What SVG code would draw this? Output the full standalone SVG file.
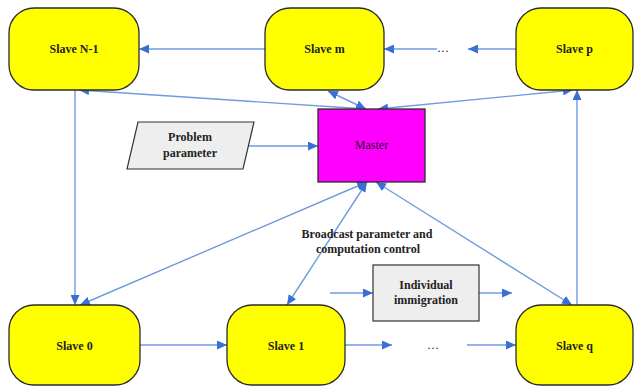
<svg xmlns="http://www.w3.org/2000/svg" width="634" height="386" viewBox="0 0 634 386">
<defs>
<marker id="ah" markerUnits="userSpaceOnUse" markerWidth="10" markerHeight="9" refX="10" refY="4.5" orient="auto-start-reverse">
<path d="M0,0 L10,4.5 L0,9 z" fill="#3a6fd6"/>
</marker>
<style>
.slave rect{fill:#ffff00;stroke:#2b2b2b;stroke-width:1.3}
.gray{fill:#eeeeee;stroke:#333;stroke-width:1.2}
.t{font-family:"Liberation Serif","Times New Roman",serif;font-size:12px;font-weight:bold;fill:#222;text-anchor:middle}
.n{font-family:"Liberation Serif","Times New Roman",serif;font-size:12px;fill:#222;text-anchor:middle}
.c line{stroke:#6f9be0;stroke-width:1.4;fill:none}
.e{marker-end:url(#ah)}
.b{marker-start:url(#ah);marker-end:url(#ah)}
</style>
</defs>
<rect width="634" height="386" fill="#ffffff"/>
<g class="c" id="connectors">
<line class="e" x1="265" y1="49" x2="139" y2="49"/>
<line class="e" x1="516" y1="49" x2="468" y2="49"/>
<line class="e" x1="437" y1="49" x2="384" y2="49"/>
<line class="b" x1="366" y1="109" x2="79" y2="90"/>
<line class="b" x1="366" y1="109" x2="328" y2="91"/>
<line class="b" x1="378" y1="109" x2="573" y2="90"/>
<line class="e" x1="248" y1="146" x2="318" y2="146"/>
<line class="e" x1="75" y1="90" x2="75" y2="305"/>
<line class="b" x1="367" y1="182" x2="80" y2="305"/>
<line class="b" x1="367" y1="182" x2="287" y2="305"/>
<line class="b" x1="376" y1="182" x2="572" y2="305"/>
<line class="e" x1="577" y1="305" x2="577" y2="90"/>
<line class="e" x1="140" y1="345" x2="227" y2="345"/>
<line class="e" x1="345" y1="345" x2="392" y2="345"/>
<line class="e" x1="467" y1="345" x2="516" y2="345"/>
<line class="e" x1="330" y1="293" x2="373" y2="293"/>
<line class="e" x1="479" y1="293" x2="512" y2="293"/>
</g>
<text class="n" x="443" y="52">…</text>
<text class="n" x="433" y="349">…</text>
<g id="slaveN1" class="slave"><rect x="9" y="8" width="130" height="82" rx="25"/><text class="t" x="74" y="53">Slave N-1</text></g>
<g id="slavem" class="slave"><rect x="265" y="8" width="119" height="82" rx="25"/><text class="t" x="324.5" y="53">Slave m</text></g>
<g id="slavep" class="slave"><rect x="516" y="8" width="117" height="82" rx="25"/><text class="t" x="574.5" y="53">Slave p</text></g>
<g id="master"><rect x="318" y="109" width="107" height="73" fill="#ff00ff" stroke="#2b2b2b" stroke-width="1.3"/><text class="n" x="371.5" y="149" style="fill:#2a0a2a">Master</text></g>
<g id="problem"><polygon class="gray" points="138,122 254,122 243,169 127,169"/><text class="t" x="190" y="141">Problem</text><text class="t" x="190" y="157">parameter</text></g>
<g id="broadcast"><text class="t" x="367" y="238">Broadcast parameter and</text><text class="t" x="368" y="253">computation control</text></g>
<g id="immigration"><rect class="gray" x="373" y="265" width="106" height="56"/><text class="t" x="426" y="289">Individual</text><text class="t" x="426" y="304">immigration</text></g>
<g id="slave0" class="slave"><rect x="9" y="305" width="131" height="80" rx="25"/><text class="t" x="74.5" y="350">Slave 0</text></g>
<g id="slave1" class="slave"><rect x="227" y="305" width="118" height="80" rx="25"/><text class="t" x="286" y="350">Slave 1</text></g>
<g id="slaveq" class="slave"><rect x="516" y="305" width="117" height="80" rx="25"/><text class="t" x="574.5" y="350">Slave q</text></g>
</svg>
